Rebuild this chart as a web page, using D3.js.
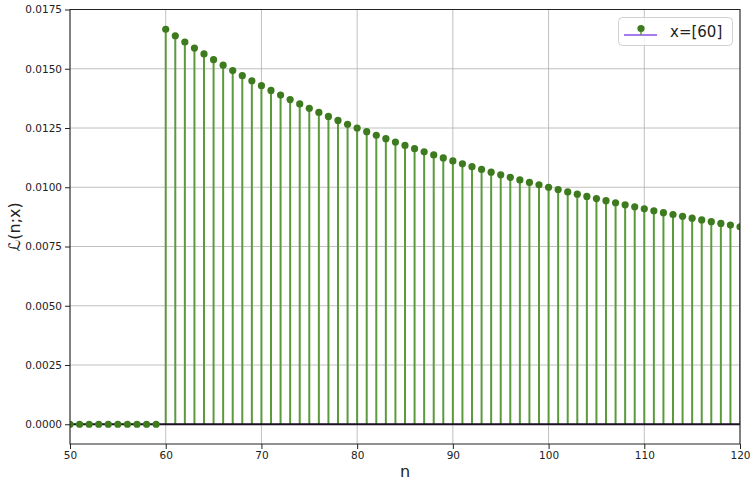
<!DOCTYPE html>
<html><head><meta charset="utf-8">
<script src="https://cdn.jsdelivr.net/npm/d3@7"></script>
<style>body{margin:0;background:#fff;} svg{display:block;font-family:"DejaVu Sans",sans-serif;}</style>
</head><body>
<script>
const nValues = d3.range(50, 121);
const likelihood = [
 0,0,0,0,0,0,0,0,0,0,
 0.016667,0.016393,0.016129,0.015873,0.015625,0.015385,0.015152,0.014925,0.014706,0.014493,
 0.014286,0.014085,0.013889,0.013699,0.013514,0.013333,0.013158,0.012987,0.012821,0.012658,
 0.012500,0.012346,0.012195,0.012048,0.011905,0.011765,0.011628,0.011494,0.011364,0.011236,
 0.011111,0.010989,0.010870,0.010753,0.010638,0.010526,0.010417,0.010309,0.010204,0.010101,
 0.010000,0.009901,0.009804,0.009709,0.009615,0.009524,0.009434,0.009346,0.009259,0.009174,
 0.009091,0.009009,0.008929,0.008850,0.008772,0.008696,0.008621,0.008547,0.008475,0.008403,
 0.008333
];
const xTicks = [50,60,70,80,90,100,110,120];
const yTicks = [0,0.0025,0.005,0.0075,0.01,0.0125,0.015,0.0175];
const legendLabel = "x=[60]";

const W=754,H=484, L=70,R=740,T=9.5,B=444;
const svg=d3.select("body").append("svg").attr("width",W).attr("height",H);
const x=d3.scaleLinear().domain([50,120]).range([L,R]);
const y=d3.scaleLinear().domain([-0.000833,0.0175]).range([B,T]);

svg.append("defs").append("clipPath").attr("id","clip")
  .append("rect").attr("x",L).attr("y",T).attr("width",R-L).attr("height",B-T);

// grid
const g=svg.append("g");
g.selectAll(".gx").data(xTicks).join("line").attr("x1",d=>x(d)).attr("x2",d=>x(d))
 .attr("y1",T).attr("y2",B).attr("stroke","#b0b0b0").attr("stroke-width",0.8);
g.selectAll(".gy").data(yTicks).join("line").attr("y1",d=>y(d)).attr("y2",d=>y(d))
 .attr("x1",L).attr("x2",R).attr("stroke","#b0b0b0").attr("stroke-width",0.8);

const data=nValues.map((n,i)=>({n,v:likelihood[i]}));
const plot=svg.append("g").attr("clip-path","url(#clip)");
plot.selectAll(".stem").data(data).join("line")
 .attr("x1",d=>x(d.n)).attr("x2",d=>x(d.n)).attr("y1",y(0)).attr("y2",d=>y(d.v))
 .attr("stroke","#5c9a3c").attr("stroke-width",2);
plot.append("line").attr("x1",L).attr("x2",R).attr("y1",y(0)).attr("y2",y(0))
 .attr("stroke","#1c1024").attr("stroke-width",2);
plot.selectAll(".mk").data(data).join("circle")
 .attr("cx",d=>x(d.n)).attr("cy",d=>y(d.v)).attr("r",3.6).attr("fill","#3d7b1e");

// axes
const xa=svg.append("g").attr("transform",`translate(0,${B})`)
 .call(d3.axisBottom(x).tickValues(xTicks).tickFormat(d3.format("d")).tickSizeOuter(0).tickSize(5).tickPadding(3));
const ya=svg.append("g").attr("transform",`translate(${L},0)`)
 .call(d3.axisLeft(y).tickValues(yTicks).tickFormat(d3.format(".4f")).tickSizeOuter(0).tickSize(5).tickPadding(3));
[xa,ya].forEach(a=>{a.selectAll("text").attr("font-size",10.5).attr("fill","#222").attr("font-family","DejaVu Sans");
 a.selectAll("line").attr("stroke","#222"); a.select(".domain").remove();});
svg.append("rect").attr("x",L).attr("y",T).attr("width",R-L).attr("height",B-T)
 .attr("fill","none").attr("stroke","#222").attr("stroke-width",1);

svg.append("text").attr("x",(L+R)/2).attr("y",477).attr("text-anchor","middle")
 .attr("font-size",16).attr("fill","#222").text("n");
svg.append("text").attr("transform",`translate(20,${(T+B)/2}) rotate(-90)`).attr("text-anchor","middle")
 .attr("font-size",16).attr("fill","#222").text("ℒ(n;x)");

// legend
const lg=svg.append("g");
lg.append("rect").attr("x",618.5).attr("y",17.5).attr("width",114).attr("height",28).attr("rx",4)
 .attr("fill","#fff").attr("fill-opacity",0.8).attr("stroke","#d0d0d0");
lg.append("line").attr("x1",624).attr("x2",657).attr("y1",35).attr("y2",35).attr("stroke","#8a4fe8").attr("stroke-width",1.5);
lg.append("line").attr("x1",641).attr("x2",641).attr("y1",35).attr("y2",29).attr("stroke","#5c9a3c").attr("stroke-width",1.5);
lg.append("circle").attr("cx",641).attr("cy",28.5).attr("r",3.6).attr("fill","#3d7b1e");
lg.append("text").attr("x",670).attr("y",37).attr("font-size",15).attr("fill","#222").text(legendLabel);
</script>
</body></html>
